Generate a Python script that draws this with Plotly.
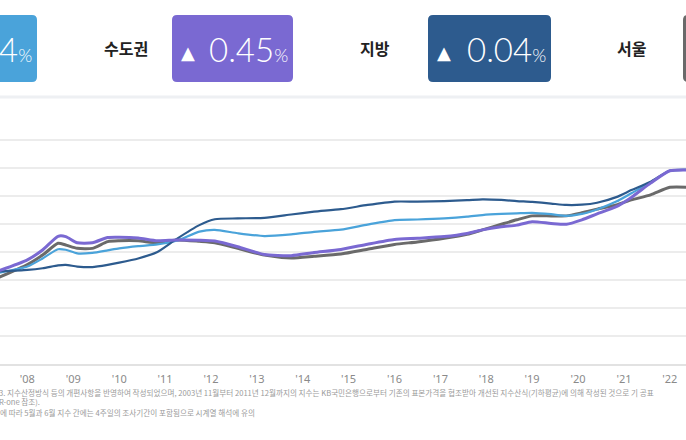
import plotly.graph_objects as go

W, H = 686, 440
PLOT_BOTTOM = 364  # pixel row of the x axis line

# ---- data (index) ----
dates = [
    "2007-05", "2008-01", "2008-05", "2008-09", "2008-11", "2009-02", "2009-06",
    "2009-10", "2010-01", "2010-06", "2010-11", "2011-04", "2011-10", "2012-02",
    "2012-08", "2013-03", "2013-10", "2014-04", "2014-11", "2015-06", "2016-01",
    "2016-07", "2017-02", "2017-08", "2017-12", "2018-05", "2018-09", "2019-01",
    "2019-06", "2019-10", "2020-02", "2020-06", "2020-11", "2021-03", "2021-08",
    "2022-01", "2022-06",
]
national = [
    62.4, 64.8, 67.7, 71.0, 70.8, 69.5, 69.7, 70.6, 71.3, 72.1, 72.7, 74.0, 77.3,
    77.9, 76.7, 75.7, 76.3, 77.2, 78.0, 79.8, 81.4, 81.6, 82.0, 82.6, 83.2, 83.6,
    83.8, 84.0, 83.5, 82.9, 83.6, 85.2, 88.0, 91.0, 94.8, 99.0, 99.3,
]
capital = [
    63.0, 67.2, 70.7, 75.6, 75.5, 73.3, 73.3, 75.2, 75.3, 75.0, 74.0, 74.3, 74.2,
    73.9, 71.9, 69.1, 68.7, 69.8, 70.9, 72.8, 74.5, 74.9, 75.5, 76.6, 77.9, 79.0,
    79.6, 80.8, 80.2, 79.9, 81.5, 83.6, 86.2, 89.5, 94.6, 99.0, 99.3,
]
regional = [
    63.0, 63.6, 64.2, 65.2, 65.4, 64.8, 64.6, 65.4, 66.2, 67.7, 70.0, 74.6, 79.6,
    81.7, 82.0, 82.2, 83.4, 84.4, 85.3, 86.8, 88.0, 88.0, 88.2, 88.5, 88.8, 88.6,
    88.2, 87.9, 87.3, 86.8, 86.9, 87.6, 89.6, 92.1, 95.1, 99.0, 99.3,
]
seoul = [
    60.6, 65.5, 68.9, 73.1, 72.5, 71.3, 71.3, 73.7, 74.0, 74.0, 73.3, 74.3, 73.8,
    73.3, 71.3, 68.9, 67.9, 68.5, 69.3, 71.0, 72.7, 73.6, 74.9, 76.3, 77.9, 79.9,
    81.5, 82.9, 82.9, 82.9, 84.0, 85.3, 86.8, 88.6, 90.4, 93.1, 93.1,
]

tick_years = list(range(2008, 2023))
tick_labels = ["'%02d" % (y % 100) for y in tick_years]
grid_values = [40, 50, 60, 70, 80, 90, 100, 110]

region_names = ["전국", "수도권", "지방", "서울"]
region_changes = [0.24, 0.45, 0.04, 0.12]
region_colors = ["#4aa3da", "#7a69d2", "#2d5b8e", "#6a6a6a"]

footnotes = [
    "3. 지수산정방식 등의 개편사항을 반영하여 작성되었으며, 2003년 11월부터 2011년 12월까지의 지수는 "
    "KB국민은행으로부터 기존의 표본가격을 협조받아 개선된 지수산식(기하평균)에 의해 작성된 것으로 기 공표",
    "R-one 참조).",
    "에 따라 5월과 6월 지수 간에는 4주일의 조사기간이 포함됨으로 시계열 해석에 유의",
]


def px(x):
    return x / W


def py(y):
    return (PLOT_BOTTOM - y) / PLOT_BOTTOM


def rounded_box(x0, y0, x1, y1, r=5):
    return (
        f"M {px(x0 + r)},{py(y0)} L {px(x1 - r)},{py(y0)} "
        f"Q {px(x1)},{py(y0)} {px(x1)},{py(y0 + r)} L {px(x1)},{py(y1 - r)} "
        f"Q {px(x1)},{py(y1)} {px(x1 - r)},{py(y1)} L {px(x0 + r)},{py(y1)} "
        f"Q {px(x0)},{py(y1)} {px(x0)},{py(y1 - r)} L {px(x0)},{py(y0 + r)} "
        f"Q {px(x0)},{py(y0)} {px(x0 + r)},{py(y0)} Z"
    )


fig = go.Figure()

series = [
    ("서울", seoul, region_colors[3], 3),
    ("전국", national, region_colors[0], 2.2),
    ("지방", regional, region_colors[2], 2.2),
    ("수도권", capital, region_colors[1], 3),
]
for name, vals, color, width in series:
    fig.add_trace(go.Scatter(
        x=dates,
        y=vals,
        mode='lines',
        name=name,
        line=dict(color=color, width=width, shape='spline', smoothing=0.6),
        hoverinfo='skip',
        showlegend=False,
    ))

# header boxes: label + value box per region
label_x = [None, 126, 375, 632]
box_x = [(-90, 37), (172, 293), (428, 551), (683, 806)]
for i, name in enumerate(region_names):
    x0, x1 = box_x[i]
    fig.add_shape(
        type='path', path=rounded_box(x0, 15, x1, 82),
        xref='paper', yref='paper',
        fillcolor=region_colors[i], line=dict(width=0), layer='above',
    )
    fig.add_annotation(
        x=px(x0 + 16), y=py(52), xref='paper', yref='paper',
        xanchor='center', yanchor='middle', showarrow=False,
        text="▲", font=dict(family='DejaVu Sans', size=18, color='white'),
    )
    fig.add_annotation(
        x=px(x1 - 3), y=py(49), xref='paper', yref='paper',
        xanchor='right', yanchor='middle', showarrow=False,
        text=f"{region_changes[i]:.2f}<span style='font-size:18px'>%</span>",
        font=dict(family='Lato', size=33, color='white', weight=300),
    )
    if label_x[i] is not None:
        fig.add_annotation(
            x=px(label_x[i]), y=py(48), xref='paper', yref='paper',
            xanchor='center', yanchor='middle', showarrow=False,
            text=f"<b>{name}</b>",
            font=dict(family='Noto Sans CJK KR', size=16, color='#222222'),
        )

# separator under header
fig.add_shape(
    type='line', x0=0, x1=1, y0=py(97), y1=py(97),
    xref='paper', yref='paper', line=dict(color='#eef0f3', width=3),
)

# footnotes
note_pos = [(-3, 392), (-3, 401), (-2, 412)]
for (nx, ny), note in zip(note_pos, footnotes):
    fig.add_annotation(
        x=px(nx), y=py(ny), xref='paper', yref='paper',
        xanchor='left', yanchor='middle', showarrow=False,
        text=note,
        font=dict(family='Noto Sans CJK KR', size=7.6, color='#9a9a9a'),
    )

fig.update_layout(
    width=W,
    height=H,
    margin=dict(l=0, r=0, t=0, b=H - PLOT_BOTTOM),
    paper_bgcolor='white',
    plot_bgcolor='white',
    xaxis=dict(
        range=['2007-05-28', '2022-05-10'],
        tickvals=[f"{y}-01-01" for y in tick_years],
        ticktext=tick_labels,
        tickfont=dict(family='Noto Sans', size=11, color='#8a8a8a'),
        ticks='outside', ticklen=4, tickcolor='rgba(0,0,0,0)',
        showgrid=False, zeroline=False,
        showline=True, linecolor='#e2e2e2', linewidth=2,
    ),
    yaxis=dict(
        range=[30, 160],
        tickvals=grid_values,
        showticklabels=False,
        showgrid=True, gridcolor='#ececec', gridwidth=1.5,
        zeroline=False,
    ),
)

fig.write_html(
    "out.html",
    config={'displayModeBar': False},
    post_script="document.body.style.margin='0';document.body.style.overflow='hidden';",
)
